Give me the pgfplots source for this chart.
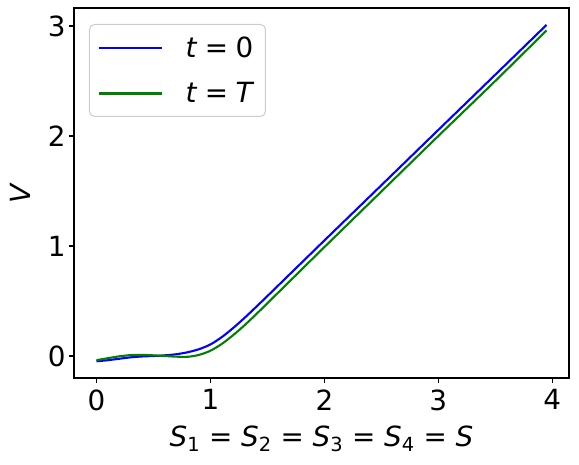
\documentclass[border=0pt]{standalone}
\usepackage{pgfplots}
\pgfplotsset{compat=1.18}
\usepackage{fontspec}
\setmainfont{DejaVu Sans}
\usetikzlibrary{calc}
\definecolor{mplgreen}{RGB}{0,128,0}
\newcommand{\eqsp}{\hspace{7.5pt}=\hspace{7.5pt}}
\begin{document}
\begin{tikzpicture}
\begin{axis}[
  scale only axis,
  width=495pt, height=370pt,
  xmin=-0.1975, xmax=4.1475,
  ymin=-0.2, ymax=3.164,
  xtick={0,1,2,3,4}, ytick={0,1,2,3},
  tick align=outside,
  major tick length=5pt,
  tick style={line width=1.1pt, black},
  axis line style={line width=1.1pt},
  xtick pos=bottom, ytick pos=left,
  /pgf/number format/assume math mode=true,
  every tick label/.style={font=\fontsize{27.8}{32}\selectfont},
  xticklabel style={yshift=-3pt},
  xlabel={\textit{S}\textsubscript{1} = \textit{S}\textsubscript{2} = \textit{S}\textsubscript{3} = \textit{S}\textsubscript{4} = \textit{S}},
  ylabel={\textit{V}},
  label style={font=\fontsize{27.8}{32}\selectfont},
  xlabel style={yshift=-8pt},
  ylabel style={yshift=10pt},
  legend style={at={(0,1)}, anchor=north west, xshift=15pt, yshift=-16pt,
    draw=black!20, rounded corners=5pt, line width=1pt,
    font=\fontsize{27.8}{32}\selectfont,
    inner xsep=8pt, inner ysep=9pt, row sep=18pt,
    nodes={inner sep=3pt, anchor=west},
    /tikz/every odd column/.append style={column sep=20pt}},
  legend cell align=left,
  legend image code/.code={\draw[#1, line width=2.1pt] (0pt,0pt) -- (63pt,0pt);},
]
\addplot[blue, line width=2.1pt, smooth] coordinates {
(0,-0.048) (0.1,-0.038) (0.2,-0.025) (0.3,-0.012) (0.4,-0.004) (0.5,0.0)
(0.6,0.006) (0.7,0.016) (0.8,0.034) (0.9,0.062) (1.0,0.105) (1.1,0.172)
(1.2,0.255) (1.3,0.347) (1.4,0.445) (1.5,0.545) (1.6,0.646) (1.7,0.747)
(1.8,0.848) (1.9,0.949) (2.0,1.05) (2.5,1.552) (3.0,2.055) (3.5,2.557) (3.95,3.01)};
\addlegendentry{\textit{t}\eqsp 0}
\addplot[mplgreen, line width=2.1pt, smooth] coordinates {
(0,-0.038) (0.1,-0.02) (0.2,-0.003) (0.3,0.008) (0.4,0.01) (0.5,0.006)
(0.6,0.0) (0.7,-0.006) (0.8,-0.007) (0.9,0.01) (1.0,0.048) (1.1,0.11)
(1.2,0.19) (1.3,0.28) (1.4,0.378) (1.5,0.48) (1.6,0.582) (1.7,0.684)
(1.8,0.786) (1.9,0.888) (2.0,0.99) (2.5,1.495) (3.0,2.0) (3.5,2.5) (3.95,2.96)};
\addlegendentry{\textit{t}\eqsp \textit{T}}
\end{axis}
\pgfresetboundingbox
\path ($(current axis.south west)+(-74pt,-86pt)$) rectangle ($(current axis.north east)+(10pt,8pt)$);
\end{tikzpicture}
\end{document}
